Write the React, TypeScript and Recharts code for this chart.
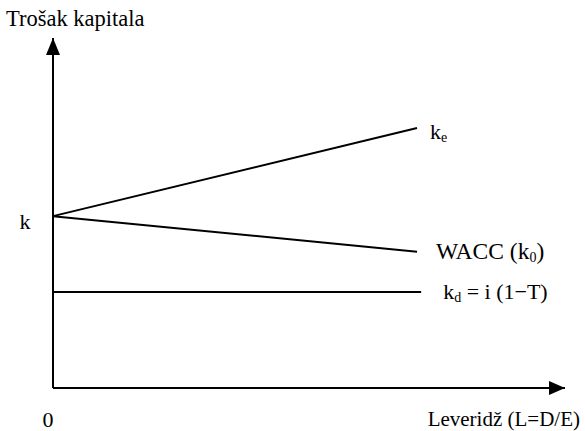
import React from 'react'
import { LineChart, Line, XAxis, YAxis, ReferenceDot } from 'recharts'

// leverage (x) and cost of capital (y) on a 0–100 scale
const leverage = [0, 71.1]
const keCost = [49.1, 74.3]
const waccCost = [49.1, 38.9]
const kdLeverage = [0, 71.9]
const kdCost = [27.4, 27.4]
const xTicks = [0]
const yTicks = [49.1]

const FONT = '"Liberation Serif", "DejaVu Serif", serif'
const INK = '#000'
const FS = 22
const SUB = 14

const toPoints = (xs: number[], ys: number[]) => xs.map((x, i) => ({ x, y: ys[i] }))

const keData = toPoints(leverage, keCost)
const waccData = toPoints(leverage, waccCost)
const kdData = toPoints(kdLeverage, kdCost)

function UpArrow(p: any) {
  const { cx, cy } = p
  return <polygon points={`${cx},${cy} ${cx - 7},${cy + 17} ${cx + 7},${cy + 17}`} fill={INK} />
}

function RightArrow(p: any) {
  const { cx, cy } = p
  return <polygon points={`${cx},${cy} ${cx - 16},${cy - 7} ${cx - 16},${cy + 7}`} fill={INK} />
}

const endLabel = (dx: number, dy: number, size: number, content: React.ReactNode) => (p: any) => (
  <text x={p.cx + dx} y={p.cy + dy} fontSize={size} fontFamily={FONT} fill={INK}>{content}</text>
)

export default function App() {
  return (
    <div style={{ position: 'absolute', left: 0, top: 0, width: 585, height: 431, background: '#fff' }}>
      <LineChart width={585} height={431} margin={{ top: 38, right: 20, bottom: 42, left: 52 }}>
        <XAxis
          type="number" dataKey="x" domain={[0, 100]} ticks={xTicks} height={1}
          axisLine={{ stroke: INK, strokeWidth: 2 }} tickLine={false} tickSize={0} tickMargin={0}
          tick={(p: any) => (
            <text x={p.x - 5} y={p.y + 39} textAnchor="middle" fontSize={FS} fontFamily={FONT} fill={INK}>{p.payload.value}</text>
          )}
          label={{
            content: (p: any) => (
              <text x={p.viewBox.x + p.viewBox.width + 15} y={p.viewBox.y + 38} textAnchor="end" fontSize={21} fontFamily={FONT} fill={INK}>Leveridž (L=D/E)</text>
            ),
          }}
        />
        <YAxis
          type="number" domain={[0, 100]} ticks={yTicks} width={1}
          axisLine={{ stroke: INK, strokeWidth: 2 }} tickLine={false} tickSize={0} tickMargin={0}
          tick={(p: any) => (
            <text x={p.x - 28} y={p.y + 13} textAnchor="middle" fontSize={FS} fontFamily={FONT} fill={INK}>k</text>
          )}
          label={{
            content: (p: any) => (
              <text x={p.viewBox.x - 46} y={p.viewBox.y - 12} fontSize={22.5} fontFamily={FONT} fill={INK}>Trošak kapitala</text>
            ),
          }}
        />
        <Line data={keData} dataKey="y" type="linear" stroke={INK} strokeWidth={2} dot={false} activeDot={false} isAnimationActive={false} />
        <Line data={waccData} dataKey="y" type="linear" stroke={INK} strokeWidth={2} dot={false} activeDot={false} isAnimationActive={false} />
        <Line data={kdData} dataKey="y" type="linear" stroke={INK} strokeWidth={2} dot={false} activeDot={false} isAnimationActive={false} />

        <ReferenceDot x={0} y={100} r={1} ifOverflow="visible" shape={UpArrow} />
        <ReferenceDot x={100} y={0} r={1} ifOverflow="visible" shape={RightArrow} />

        <ReferenceDot x={leverage[1]} y={keCost[1]} r={1} ifOverflow="visible"
          shape={endLabel(13, 11, FS, <>k<tspan fontSize={SUB} dy={3}>e</tspan></>)} />
        <ReferenceDot x={leverage[1]} y={waccCost[1]} r={1} ifOverflow="visible"
          shape={endLabel(19, 7, 23.5, <>WACC (k<tspan fontSize={SUB} dy={3}>0</tspan><tspan dy={-3}>)</tspan></>)} />
        <ReferenceDot x={kdLeverage[1]} y={kdCost[1]} r={1} ifOverflow="visible"
          shape={endLabel(22, 7, FS, <>k<tspan fontSize={SUB} dy={3}>d</tspan><tspan dy={-3}> = i (1−T)</tspan></>)} />
      </LineChart>
    </div>
  )
}
